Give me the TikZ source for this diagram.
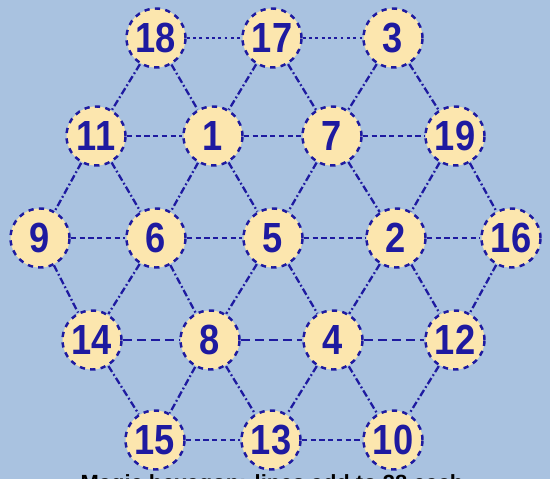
\documentclass[tikz,border=0pt]{standalone}
\usepackage{fontspec}
\setmainfont{Liberation Sans}
\newfontfamily\numfont[FakeStretch=0.86]{Liberation Sans}
\usetikzlibrary{positioning}
\definecolor{HexBack}{HTML}{A9C2E0}
\definecolor{HexFill}{HTML}{FCE6AE}
\definecolor{HexBlue}{HTML}{1E1AA0}
\begin{document}
\begin{tikzpicture}[
  x=0.02cm,y=-0.02cm,
  cell/.style={
    circle,
    draw=HexBlue,
    dashed,
    line width=1.4pt,
    fill=HexFill,
    minimum size=1.18cm,
    inner sep=0pt,
    font=\numfont\fontsize{24}{26}\bfseries\selectfont,
    text=HexBlue
  },
  rowlink/.style={
    line width=1.4pt,
    draw=HexBlue,
    densely dashed
  },
  toplink/.style={
    line width=1.6pt,
    draw=HexBlue,
    dotted
  },
  longlink/.style={
    line width=1.6pt,
    draw=HexBlue,
    dash pattern=on 5pt off 3pt
  },
  sidelink/.style={
    line width=1.3pt,
    draw=HexBlue,
    dash pattern=on 4pt off 1.5pt on 1pt off 1.5pt
  },
  caption/.style={
    font=\fontsize{12.5}{15}\bfseries\selectfont,
    text=black,
    anchor=base
  }
]

% background, fixes the size
\fill[HexBack] (0,0) rectangle (550,479);
\useasboundingbox (0,0) rectangle (550,479);

% -------------------------------------------------
% Hexagon cells
% -------------------------------------------------
\node[cell] (n18) at (156,38) {18};
\node[cell] (n17) at (272,38) {17};
\node[cell] (n3)  at (393,38) {3};

\node[cell] (n11) at (96,136)  {11};
\node[cell] (n1)  at (213,136) {1};
\node[cell] (n7)  at (332,136) {7};
\node[cell] (n19) at (455,136) {19};

\node[cell] (n9)  at (40,238)  {9};
\node[cell] (n6)  at (156,238) {6};
\node[cell] (n5)  at (273,238) {5};
\node[cell] (n2)  at (396,238) {2};
\node[cell] (n16) at (511,238) {16};

\node[cell] (n14) at (92,340)  {14};
\node[cell] (n8)  at (210,340) {8};
\node[cell] (n4)  at (333,340) {4};
\node[cell] (n12) at (455,340) {12};

\node[cell] (n15) at (155,440) {15};
\node[cell] (n13) at (271,440) {13};
\node[cell] (n10) at (393,440) {10};

% -------------------------------------------------
% Links between the cells
% -------------------------------------------------
\foreach \a/\b in {18/17,17/3}
  \draw[toplink] (n\a) -- (n\b);
\foreach \a/\b in {11/1,1/7,7/19,9/6,6/5,5/2,2/16,15/13,13/10}
  \draw[rowlink] (n\a) -- (n\b);
\foreach \a/\b in {14/8,8/4,4/12}
  \draw[longlink] (n\a) -- (n\b);
\foreach \a/\b in {18/11,18/1,17/1,17/7,3/7,3/19,
                   11/9,11/6,1/6,1/5,7/5,7/2,19/2,19/16,
                   9/14,6/14,6/8,5/8,5/4,2/4,2/12,16/12,
                   14/15,8/15,8/13,4/13,4/10,12/10}
  \draw[sidelink] (n\a) -- (n\b);

% caption, cut by the lower edge
\node[caption] (cap) at (272,490) {Magic hexagon: lines add to 38 each};

\end{tikzpicture}
\end{document}
